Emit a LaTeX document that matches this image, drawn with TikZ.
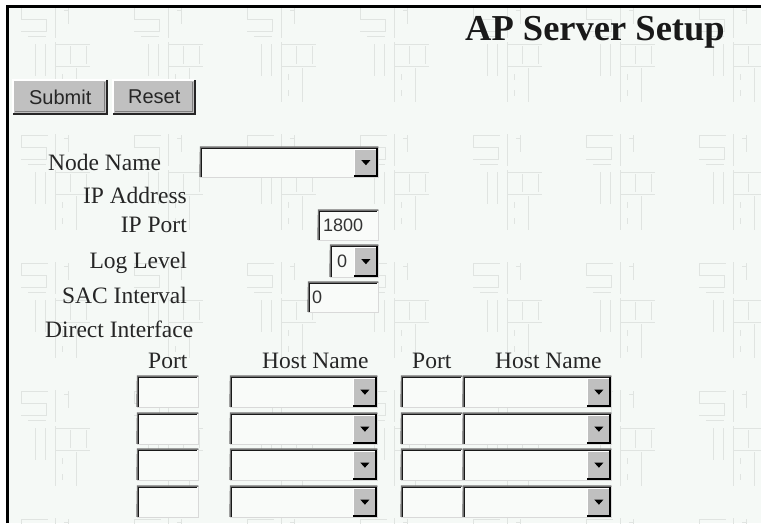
\documentclass[tikz,border=0pt]{standalone}
\usepackage{fontspec}
\setmainfont{Liberation Serif}
\setsansfont{Liberation Sans}
\usetikzlibrary{positioning}

\definecolor{pagebg}{RGB}{245,249,246}
\definecolor{fieldbg}{RGB}{249,251,249}
\definecolor{btngray}{RGB}{192,192,192}
\definecolor{markgray}{RGB}{224,228,225}

\tikzset{
  lbl/.style={anchor=base east, inner sep=0pt, text=black!85,
    font=\fontsize{23.5}{26}\selectfont},
  hdr/.style={lbl, anchor=base west},
  btn/.style={fill=btngray, inner sep=0pt, minimum height=34pt, anchor=north west,
    text=black!85, font=\sffamily\fontsize{20}{22}\selectfont},
  field/.style={fill=fieldbg, inner sep=0pt, minimum height=31pt, anchor=north west},
  valtxt/.style={inner sep=0pt, anchor=west, text=black!80,
    font=\sffamily\fontsize{18}{20}\selectfont},
}

% faint logo of the page background
\newcommand{\wmark}[2]{%
  \begin{scope}[shift={(#1,#2)}]
    \draw (3,3) -- (30,3) (3,3) -- (3,15) -- (28,15) -- (28,27) -- (3,27) (10,32) -- (28,32);
    \draw (37,2) -- (37,34) (50,3) -- (50,20) (46,6) -- (50,6);
    \draw (17,40) -- (17,72) (27,40) -- (27,72);
    \draw (37,38) -- (37,98) (37,40) -- (72,40) (52,42) -- (52,60) (68,42) -- (68,60)
      (37,62) -- (72,62) (58,64) -- (58,98) (44,70) -- (44,76) (44,86) -- (44,92);
  \end{scope}}
% sunken frame of a text field
\newcommand{\sunken}[1]{%
  \draw[black!15, line width=1.2pt] (#1.south west) -- (#1.south east) -- (#1.north east);
  \draw[black!55, line width=1.5pt] ([yshift=0.6pt]#1.south west) -- ([xshift=0.6pt]#1.north west -| #1.west) -- (#1.north east);
  \draw[black!90, line width=1.5pt] ([xshift=1.5pt,yshift=0.6pt]#1.south west) -- ([xshift=1.5pt,yshift=-1.5pt]#1.north west)
    -- ([xshift=-1pt,yshift=-1.5pt]#1.north east);}
% arrow button of a drop-down list
\newcommand{\dropbtn}[1]{%
  \fill[btngray] ([xshift=-24pt,yshift=-2.3pt]#1.north east) rectangle ([xshift=-1pt,yshift=1pt]#1.south east);
  \draw[white] ([xshift=-24pt,yshift=1.5pt]#1.south east) -- ([xshift=-24pt,yshift=-2.3pt]#1.north east)
    -- ([xshift=-2pt,yshift=-2.3pt]#1.north east);
  \draw[black, line width=2pt] ([xshift=-24pt,yshift=1.2pt]#1.south east) -- ([xshift=-1.2pt,yshift=1.2pt]#1.south east)
    -- ([xshift=-1.2pt,yshift=-1pt]#1.north east);
  \fill[black] ([xshift=-17pt,yshift=2pt]#1.east) -- ([xshift=-8pt,yshift=2pt]#1.east)
    -- ([xshift=-12.5pt,yshift=-3pt]#1.east) -- cycle;}
% raised push button
\newcommand{\raised}[1]{%
  \draw[white, line width=1.5pt] ([yshift=1pt]#1.south west) -- (#1.north west) -- ([xshift=-1pt]#1.north east);
  \draw[black!50, line width=1pt] ([xshift=2pt,yshift=2.5pt]#1.south west) -- ([xshift=-2.5pt,yshift=2.5pt]#1.south east)
    -- ([xshift=-2.5pt,yshift=-2pt]#1.north east);
  \draw[black!85, line width=2pt] (#1.south west) -- (#1.south east) -- (#1.north east);}

\begin{document}
\begin{tikzpicture}[x=1pt,y=-1pt]
\useasboundingbox (0,0) rectangle (761,523);
\fill[white] (0,0) rectangle (761,523);
\fill[pagebg] (7,6) rectangle (761,523);
% background pattern
\begin{scope}[markgray, line width=0.8pt]
  \clip (9,8) rectangle (761,523);
  \foreach \i in {0,...,6}{
    \foreach \j in {0,...,4}{
      \pgfmathsetmacro{\ox}{18+113*\i}
      \pgfmathsetmacro{\oy}{4+128*\j}
      \wmark{\ox}{\oy}
    }
  }
\end{scope}
\draw[line width=3pt] (7.5,523) -- (7.5,6.5) -- (761,6.5);

% title and buttons
\node (title) [anchor=base west, inner sep=0pt, text=black!90,
  font=\bfseries\fontsize{36.5}{40}\selectfont] at (465,40) {AP Server Setup};
\node (submit) [btn, minimum width=94pt] at (13,80) {Submit};
\node (reset) [btn, minimum width=82pt] at (113,80) {Reset};
\raised{submit}
\raised{reset}

% settings
\node (nodename) [hdr] at (48,170) {Node Name};
\node (ipaddr) [lbl] at (187,203) {IP Address};
\node (ipport) [lbl] at (187,232) {IP Port};
\node (loglevel) [lbl] at (187,268) {Log Level};
\node (sacint) [lbl] at (187,303) {SAC Interval};
\node (direct) [hdr] at (45,337) {Direct Interface};

\node (namebox) [field, minimum width=178pt, minimum height=30pt] at (200,147) {};
\sunken{namebox}
\dropbtn{namebox}
\node (portbox) [field, minimum width=60pt, minimum height=30pt] at (318,210) {};
\sunken{portbox}
\node (portval) [valtxt, right=5pt of portbox.west] {1800};
\node (logbox) [field, minimum width=48pt, minimum height=32pt] at (330,245) {};
\sunken{logbox}
\dropbtn{logbox}
\node (logval) [valtxt, right=7pt of logbox.west] {0};
\node (sacbox) [field, minimum width=70pt, minimum height=30pt] at (308,282) {};
\sunken{sacbox}
\node (sacval) [valtxt, right=4pt of sacbox.west] {0};

% interface table
\node (porthdra) [hdr] at (148,368) {Port};
\node (hosthdra) [hdr] at (262,368) {Host Name};
\node (porthdrb) [hdr] at (412,368) {Port};
\node (hosthdrb) [hdr] at (495,368) {Host Name};
\foreach \r/\ty in {1/376, 2/413, 3/449, 4/486}{
  \node (pa\r) [field, minimum width=61pt] at (137,\ty) {};
  \node (ha\r) [field, minimum width=147pt] at (230,\ty) {};
  \node (pb\r) [field, minimum width=61pt] at (401,\ty) {};
  \node (hb\r) [field, minimum width=148pt] at (463,\ty) {};
  \sunken{pa\r}
  \sunken{ha\r}
  \dropbtn{ha\r}
  \sunken{pb\r}
  \sunken{hb\r}
  \dropbtn{hb\r}
}
\end{tikzpicture}
\end{document}
